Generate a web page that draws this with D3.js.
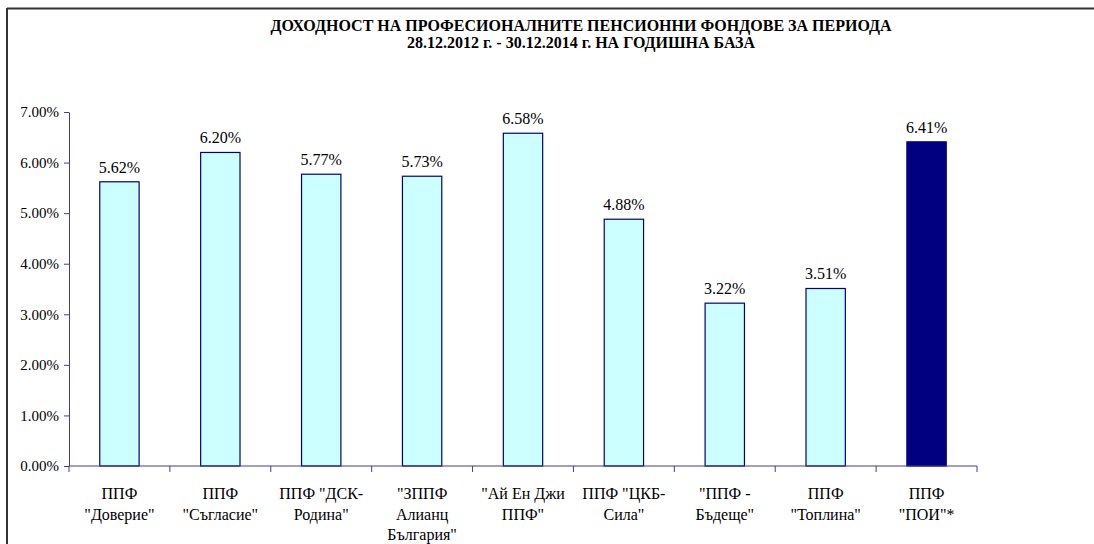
<!DOCTYPE html>
<html>
<head>
<meta charset="utf-8">
<script src="https://cdn.jsdelivr.net/npm/d3@7"></script>
<style>
  body { margin: 0; background: #fff; font-family: "Liberation Serif"; }
</style>
</head>
<body>
<svg></svg>
<script>
const margins = { top: 112, bottom: 78, left: 69, right: 117 }
const W = 1094
const H = 544
const FONT = "Liberation Serif"

const categories = [
  "ППФ|\"Доверие\"",
  "ППФ|\"Съгласие\"",
  "ППФ \"ДСК-|Родина\"",
  "\"ЗППФ|Алианц|България\"",
  "\"Ай Ен Джи|ППФ\"",
  "ППФ \"ЦКБ-|Сила\"",
  "\"ППФ -|Бъдеще\"",
  "ППФ|\"Топлина\"",
  "ППФ|\"ПОИ\"*"
]
const values = [5.62, 6.20, 5.77, 5.73, 6.58, 4.88, 3.22, 3.51, 6.41]
const y_ticks = [0, 1, 2, 3, 4, 5, 6, 7]
const title_lines = [
  "ДОХОДНОСТ НА ПРОФЕСИОНАЛНИТЕ ПЕНСИОННИ ФОНДОВЕ ЗА ПЕРИОДА",
  "28.12.2012 г. - 30.12.2014 г. НА ГОДИШНА БАЗА"
]

const data = categories.map((c, i) => ({ cat: c, value: values[i] }))

let svg = d3.select("svg")
  .attr("width", W)
  .attr("height", H)
  .attr("font-family", FONT)

// frame (only top and left edge fall inside the picture)
svg.append("line").attr("x1", 7).attr("y1", 8.5).attr("x2", W).attr("y2", 8.5)
  .style("stroke", "#333").style("stroke-width", 2)
svg.append("line").attr("x1", 7).attr("y1", 8).attr("x2", 7).attr("y2", H)
  .style("stroke", "#333").style("stroke-width", 2)

let x_scale = d3.scaleBand(categories, [margins.left, W - margins.right]).padding(0)
let y_scale = d3.scaleLinear([0, 7], [H - margins.bottom, margins.top])

const axis_color = "#3d3d9e"

// title
svg.append("g").selectAll("text")
  .data(title_lines)
  .join("text")
  .attr("x", 581)
  .attr("y", (d, i) => 31 + i * 17)
  .attr("text-anchor", "middle")
  .attr("font-family", FONT)
  .attr("font-size", 16)
  .attr("font-weight", "bold")
  .text(d => d)

// bars
const bar_w = x_scale.bandwidth() * 0.39
svg.append("g").selectAll("rect")
  .data(data)
  .join("rect")
  .attr("x", d => x_scale(d.cat) + (x_scale.bandwidth() - bar_w) / 2)
  .attr("y", d => y_scale(d.value))
  .attr("width", bar_w)
  .attr("height", d => y_scale(0) - y_scale(d.value))
  .style("fill", d => d.cat.includes("ПОИ") ? "#000080" : "#ccffff")
  .style("stroke", "#000080")
  .style("stroke-width", 1.2)

// value labels
svg.append("g").selectAll("text")
  .data(data)
  .join("text")
  .attr("x", d => x_scale(d.cat) + x_scale.bandwidth() / 2)
  .attr("y", d => y_scale(d.value) - 9)
  .attr("text-anchor", "middle")
  .attr("font-family", FONT)
  .attr("font-size", 16)
  .text(d => d.value.toFixed(2) + "%")

// y axis
let y_axis = svg.append("g")
  .attr("transform", `translate(${margins.left},0)`)
  .call(d3.axisLeft(y_scale).tickValues(y_ticks).tickSize(5).tickSizeOuter(0)
    .tickFormat(d => d.toFixed(2) + "%"))
  .attr("font-family", FONT)
  .attr("font-size", 15)
y_axis.select(".domain").style("stroke", axis_color)
y_axis.selectAll(".tick line").style("stroke", axis_color)
y_axis.selectAll(".tick text")
  .attr("x", -10)
  .attr("fill", "#000")

// x axis with ticks at band edges
let x_axis = svg.append("g")
  .attr("transform", `translate(0,${y_scale(0)})`)
x_axis.append("line")
  .attr("x1", margins.left).attr("x2", W - margins.right)
  .style("stroke", axis_color)
x_axis.selectAll("line.tick")
  .data(categories.concat([null]))
  .join("line")
  .classed("tick", true)
  .attr("x1", d => d === null ? W - margins.right : x_scale(d))
  .attr("x2", d => d === null ? W - margins.right : x_scale(d))
  .attr("y1", 0).attr("y2", 6)
  .style("stroke", axis_color)

// category labels
x_axis.selectAll("text")
  .data(categories)
  .join("text")
  .attr("text-anchor", "middle")
  .attr("transform", d => `translate(${x_scale(d) + x_scale.bandwidth() / 2},0)`)
  .attr("font-family", FONT)
  .attr("font-size", 16)
  .selectAll("tspan")
  .data(d => d.split("|"))
  .join("tspan")
  .attr("x", 0)
  .attr("y", (d, i) => 33 + i * 20.5)
  .text(d => d)
</script>
</body>
</html>
